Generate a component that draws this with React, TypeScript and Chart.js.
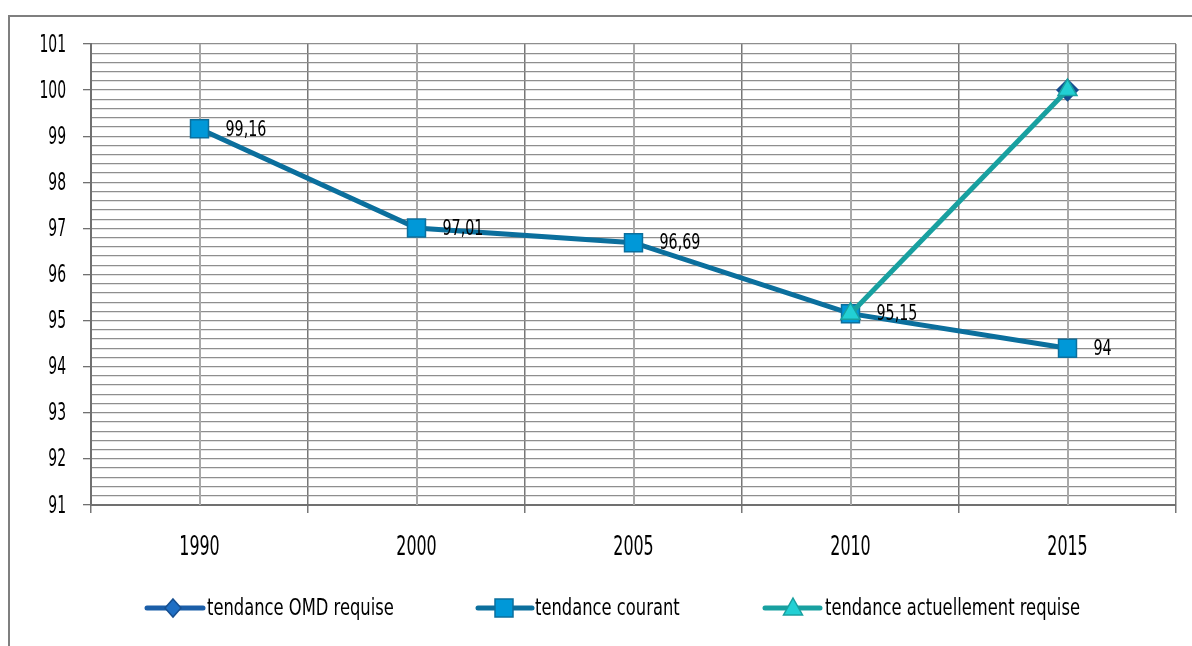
import React, { useEffect, useRef } from "react";
import { Chart, registerables } from "chart.js";

Chart.register(...registerables);

const categories = ["1990", "2000", "2005", "2010", "2015"];
const omdRequise: (number | null)[] = [null, null, null, null, 100];
const courant: number[] = [99.16, 97.01, 96.69, 95.15, 94.4];
const courantLabels: string[] = ["99,16", "97,01", "96,69", "95,15", "94"];
const actuellementRequise: (number | null)[] = [null, null, null, 95.15, 100];
const yTickValues: number[] = [91, 92, 93, 94, 95, 96, 97, 98, 99, 100, 101];
const legendNames = ["tendance OMD requise", "tendance courant", "tendance actuellement requise"];

const FONT = "'Liberation Sans Narrow', 'DejaVu Sans Condensed', 'Roboto Condensed', sans-serif";

const C_OMD_LINE = "#1b5ea8";
const C_OMD_FILL = "#1f6fc4";
const C_COUR_LINE = "#0b6f9d";
const C_COUR_FILL = "#0098d8";
const C_ACT_LINE = "#18a0a0";
const C_ACT_FILL = "#22d0d4";

function drawText(
  ctx: CanvasRenderingContext2D,
  text: string,
  x: number,
  y: number,
  size: number,
  sx: number,
  align: CanvasTextAlign
) {
  ctx.save();
  ctx.translate(x, y);
  ctx.scale(sx, 1);
  ctx.font = `${size}px ${FONT}`;
  ctx.fillStyle = "#000";
  ctx.textAlign = align;
  ctx.textBaseline = "middle";
  ctx.fillText(text, 0, 0);
  ctx.restore();
}

function drawMarker(ctx: CanvasRenderingContext2D, kind: string, x: number, y: number, fill: string, stroke: string) {
  ctx.save();
  ctx.fillStyle = fill;
  ctx.strokeStyle = stroke;
  ctx.lineWidth = 1.5;
  ctx.beginPath();
  if (kind === "diamond") {
    ctx.moveTo(x, y - 9);
    ctx.lineTo(x + 8, y);
    ctx.lineTo(x, y + 9);
    ctx.lineTo(x - 8, y);
    ctx.closePath();
  } else if (kind === "square") {
    ctx.rect(x - 9, y - 9, 18, 18);
  } else {
    ctx.moveTo(x, y - 10);
    ctx.lineTo(x + 9.5, y + 7);
    ctx.lineTo(x - 9.5, y + 7);
    ctx.closePath();
  }
  ctx.fill();
  ctx.stroke();
  ctx.restore();
}

const framePlugin = {
  id: "frame",
  beforeDraw(chart: any) {
    const ctx = chart.ctx;
    ctx.save();
    ctx.fillStyle = "#ffffff";
    ctx.fillRect(0, 0, chart.width, chart.height);
    ctx.strokeStyle = "#7f7f7f";
    ctx.lineWidth = 2;
    ctx.beginPath();
    ctx.moveTo(9, chart.height + 2);
    ctx.lineTo(9, 16);
    ctx.lineTo(chart.width + 2, 16);
    ctx.stroke();
    ctx.restore();
  },
  beforeDatasetsDraw(chart: any) {
    const ctx = chart.ctx;
    const xs = chart.scales.x;
    const ys = chart.scales.y;
    const area = chart.chartArea;
    ctx.save();
    ctx.strokeStyle = "#a9a9a9";
    ctx.lineWidth = 2;
    categories.forEach((_, i) => {
      const px = Math.round(xs.getPixelForValue(i));
      ctx.beginPath();
      ctx.moveTo(px, area.top);
      ctx.lineTo(px, area.bottom);
      ctx.stroke();
    });
    ctx.restore();
    categories.forEach((c, i) => {
      drawText(ctx, c, xs.getPixelForValue(i), 548, 26, 0.68, "center");
    });
    yTickValues.forEach((v) => {
      drawText(ctx, String(v), 66, ys.getPixelForValue(v) + 1, 25, 0.62, "right");
    });
  },
  afterDatasetsDraw(chart: any) {
    const ctx = chart.ctx;
    const meta = chart.getDatasetMeta(1);
    meta.data.forEach((pt: any, i: number) => {
      drawText(ctx, courantLabels[i], pt.x + 26, pt.y + 1, 22, 0.72, "left");
    });
  },
  afterDraw(chart: any) {
    const ctx = chart.ctx;
    const y = 608;
    const items = [
      { x1: 147, x2: 203, mx: 173, tx: 207, line: C_OMD_LINE, fill: C_OMD_FILL, stroke: "#164f90", kind: "diamond" },
      { x1: 478, x2: 532, mx: 504, tx: 535, line: C_COUR_LINE, fill: C_COUR_FILL, stroke: C_COUR_LINE, kind: "square" },
      { x1: 765, x2: 820, mx: 793, tx: 825, line: C_ACT_LINE, fill: C_ACT_FILL, stroke: C_ACT_LINE, kind: "triangle" },
    ];
    items.forEach((it, i) => {
      ctx.save();
      ctx.strokeStyle = it.line;
      ctx.lineWidth = 5;
      ctx.lineCap = "round";
      ctx.beginPath();
      ctx.moveTo(it.x1, y);
      ctx.lineTo(it.x2, y);
      ctx.stroke();
      ctx.restore();
      drawMarker(ctx, it.kind, it.mx, y, it.fill, it.stroke);
      drawText(ctx, legendNames[i], it.tx, y + 1, 23, 0.79, "left");
    });
  },
};

const isInt = (v: number) => Math.abs(v - Math.round(v)) < 1e-6;

export default function App() {
  const ref = useRef<HTMLCanvasElement>(null);

  useEffect(() => {
    if (!ref.current) return;
    const chart = new Chart(ref.current, {
      type: "line",
      data: {
        labels: categories,
        datasets: [
          {
            label: legendNames[0],
            data: omdRequise,
            borderColor: C_OMD_LINE,
            backgroundColor: C_OMD_FILL,
            pointBackgroundColor: C_OMD_FILL,
            pointBorderColor: "#164f90",
            pointStyle: "rectRot",
            pointRadius: 8,
            borderWidth: 5,
            order: 2,
          },
          {
            label: legendNames[1],
            data: courant,
            borderColor: C_COUR_LINE,
            backgroundColor: C_COUR_FILL,
            pointBackgroundColor: C_COUR_FILL,
            pointBorderColor: C_COUR_LINE,
            pointBorderWidth: 1.5,
            pointStyle: "rect",
            pointRadius: 12.7,
            borderWidth: 5,
            order: 1,
          },
          {
            label: legendNames[2],
            data: actuellementRequise,
            borderColor: C_ACT_LINE,
            backgroundColor: C_ACT_FILL,
            pointBackgroundColor: C_ACT_FILL,
            pointBorderColor: C_ACT_LINE,
            pointBorderWidth: 1.5,
            pointStyle: "triangle",
            pointRadius: 11,
            borderWidth: 5,
            order: 0,
          },
        ],
      },
      options: {
        animation: false,
        responsive: false,
        devicePixelRatio: 1,
        spanGaps: false,
        layout: { padding: { left: 0, top: 44, right: 16, bottom: 0 } },
        plugins: {
          legend: { display: false },
          tooltip: { enabled: false },
        },
        scales: {
          x: {
            type: "category",
            offset: true,
            grid: {
              offset: true,
              color: "#777777",
              lineWidth: 1.5,
              tickLength: 8,
              drawTicks: true,
              tickColor: "#777777",
            },
            border: { display: true, color: "#707070", width: 2 },
            ticks: {
              color: "rgba(0,0,0,0)",
              font: { family: FONT, size: 22 },
              padding: 21,
              maxRotation: 0,
              autoSkip: false,
            },
            afterFit: (scale: any) => {
              scale.height = 141;
            },
          },
          y: {
            min: 91,
            max: 101,
            grid: {
              color: "#8e8e8e",
              lineWidth: 1.3,
              tickLength: 8,
              drawTicks: true,
              tickColor: (ctx: any) => (ctx.tick && isInt(ctx.tick.value) ? "#707070" : "rgba(0,0,0,0)"),
            },
            border: { display: true, color: "#707070", width: 2 },
            ticks: {
              stepSize: 0.2,
              autoSkip: false,
              color: "rgba(0,0,0,0)",
              font: { family: FONT, size: 22 },
              padding: 17,
              callback: (v: any) => (isInt(Number(v)) ? String(Math.round(Number(v))) : ""),
            },
            afterFit: (scale: any) => {
              scale.width = 91;
            },
          },
        },
      },
      plugins: [framePlugin],
    });
    return () => chart.destroy();
  }, []);

  return (
    <div style={{ position: "fixed", left: 0, top: 0, width: 1192, height: 646, overflow: "hidden", background: "#fff" }}>
      <canvas ref={ref} width={1192} height={646} style={{ display: "block", width: 1192, height: 646 }} />
    </div>
  );
}
